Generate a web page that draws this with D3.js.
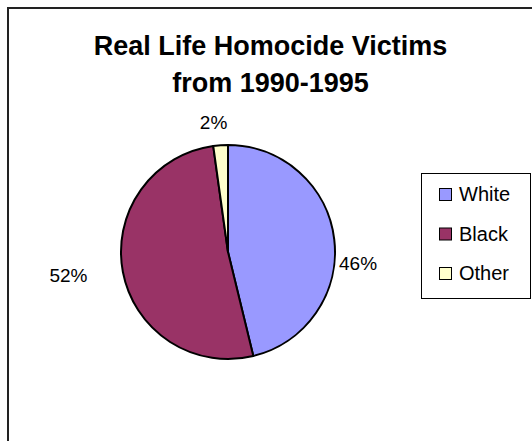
<!DOCTYPE html>
<html>
<head>
<meta charset="utf-8">
<script src="https://cdn.jsdelivr.net/npm/d3@7"></script>
<style>
  html, body { margin: 0; padding: 0; background: #fff; }
  svg { display: block; }
</style>
</head>
<body>
<svg id="chart" width="532" height="441"></svg>
<script>
// ---- data ----
const titleLines = ["Real Life Homocide Victims", "from 1990-1995"];
const categories = ["White", "Black", "Other"];
const values = [46.2, 51.6, 2.2];
const colors = ["#9999FF", "#993366", "#FFFFCC"];

// ---- layout / style (not data) ----
const W = 532, H = 441;
const font = "Arial, 'Liberation Sans', sans-serif";
const cx = 228, cy = 252, r = 107;
const labelRadius = r + 30;
const labelNudge = [[-6, 28], [-25, -2], [-5, 7]];

const svg = d3.select("#chart");

svg.append("rect").attr("width", W).attr("height", H).attr("fill", "#fff");

// chart frame (extends beyond the view on right/bottom)
svg.append("rect")
  .attr("x", 8).attr("y", 8)
  .attr("width", 560).attr("height", 480)
  .attr("fill", "#fff")
  .attr("stroke", "#222").attr("stroke-width", 2);

// title
svg.append("g").selectAll("text")
  .data(titleLines)
  .join("text")
  .attr("x", 270.5)
  .attr("y", (d, i) => 55 + i * 37)
  .attr("text-anchor", "middle")
  .attr("font-family", font)
  .attr("font-weight", "bold")
  .attr("font-size", 27)
  .attr("fill", "#000")
  .text(d => d);

// pie
const data = categories.map((c, i) => ({ cat: c, value: values[i], color: colors[i] }));
const total = d3.sum(values);
const pie = d3.pie().sort(null).value(d => d.value).startAngle(0).endAngle(2 * Math.PI);
const arcs = pie(data);
const arc = d3.arc().innerRadius(0).outerRadius(r);

const g = svg.append("g").attr("transform", `translate(${cx},${cy})`);
g.selectAll("path")
  .data(arcs)
  .join("path")
  .attr("d", arc)
  .attr("fill", d => d.data.color)
  .attr("stroke", "#000")
  .attr("stroke-width", 2)
  .attr("stroke-linejoin", "round");

// labels
g.selectAll("text")
  .data(arcs)
  .join("text")
  .attr("x", (d, i) => Math.sin((d.startAngle + d.endAngle) / 2) * labelRadius + labelNudge[i][0])
  .attr("y", (d, i) => -Math.cos((d.startAngle + d.endAngle) / 2) * labelRadius + labelNudge[i][1])
  .attr("text-anchor", "middle")
  .attr("dominant-baseline", "central")
  .attr("font-family", font)
  .attr("font-size", 19)
  .attr("fill", "#000")
  .text(d => Math.round(d.data.value / total * 100) + "%");

// legend
const legend = svg.append("g");
legend.append("rect")
  .attr("x", 421.5).attr("y", 173.5)
  .attr("width", 109).attr("height", 125)
  .attr("fill", "#fff")
  .attr("stroke", "#000").attr("stroke-width", 1);

const ly = d3.scalePoint().domain(categories).range([194, 273]);
const items = legend.selectAll("g.item")
  .data(data)
  .join("g")
  .attr("class", "item")
  .attr("transform", d => `translate(0,${ly(d.cat)})`);

items.append("rect")
  .attr("x", 439.5).attr("y", -5.5)
  .attr("width", 12).attr("height", 12)
  .attr("fill", d => d.color)
  .attr("stroke", "#000").attr("stroke-width", 1);

items.append("text")
  .attr("x", 459)
  .attr("y", 0)
  .attr("dominant-baseline", "central")
  .attr("font-family", font)
  .attr("font-size", 20)
  .attr("fill", "#000")
  .text(d => d.cat);
</script>
</body>
</html>
